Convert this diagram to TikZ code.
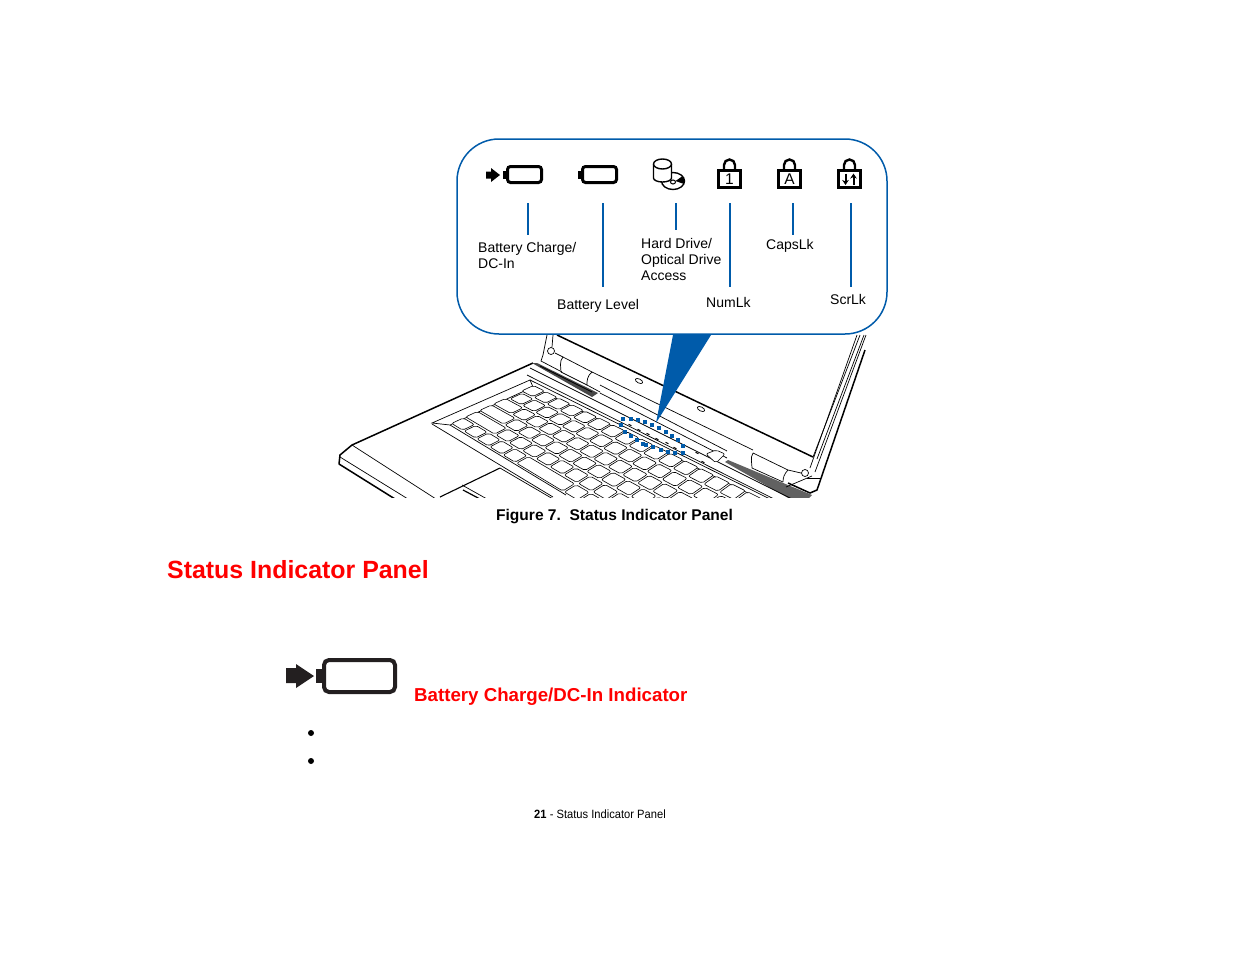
\documentclass[tikz,border=0pt]{standalone}
\usepackage{fontspec}
\setmainfont{Liberation Sans}
\newfontfamily\footfont[FakeStretch=0.93]{Liberation Sans}
\usetikzlibrary{positioning,arrows.meta}
\definecolor{panelblue}{RGB}{0,91,170}
\definecolor{icondark}{RGB}{35,31,32}
\tikzset{
	declare function={
		kx(\p,\q)=533+12.5*\p*(1+0.01*\p+0.02*\q)-14*\q*(1+0.018*\p);
		ky(\p,\q)=391+6.3*\p*(1+0.01*\p+0.02*\q)+6.6*\q*(1+0.02*\p);
	},
	keyline/.style={draw=black, fill=white, line width=0.6pt, rounded corners=2pt},
	thin line/.style={draw=black, line width=0.7pt},
	thick line/.style={draw=black, line width=1.5pt},
	leadline/.style={draw=panelblue, line width=1.8pt},
	tag/.style={inner sep=0pt, font=\fontsize{14}{16}\selectfont, align=left, anchor=west},
	lockbox/.style={draw=black, line width=3pt, minimum width=22pt, minimum height=17pt, inner sep=0pt, font=\fontsize{15.5}{15.5}\selectfont},
	cellbox/.style={draw=black, line width=3pt, rounded corners=3pt, minimum width=34pt, minimum height=16pt, inner sep=0pt},
}
\newcommand{\keycap}[3]{%
	\draw[keyline] ({kx(#1+.06,#2-.42)},{ky(#1+.06,#2-.42)}) -- ({kx(#1+#3-.06,#2-.42)},{ky(#1+#3-.06,#2-.42)})
		-- ({kx(#1+#3-.06,#2+.42)},{ky(#1+#3-.06,#2+.42)}) -- ({kx(#1+.06,#2+.42)},{ky(#1+.06,#2+.42)}) -- cycle;
}
\begin{document}
\begin{tikzpicture}[x=1pt, y=-1pt]
	\useasboundingbox (0,0) rectangle (1235,954);

	% laptop
	\begin{scope}
		\clip (330,330) rectangle (880,497);
		\draw[thick line, line join=round] (533,363) -- (352,445) -- (340,455) -- (339,464) -- (395,499);
		\draw[thin line] (352,445) -- (436,499);
		\draw[thin line] (340,457) -- (408,499);
		% well of the keyboard
		\draw[thin line] (450,425) -- (432,423) -- (530,380) -- (533,387) -- (450,425) -- (566,495);
		\draw[thin line] (432,424) -- (553,497);
		% touchpad
		\draw[line width=1.1pt] (440,497) -- (500,468);
		\draw[thin line] (500,468) -- (553,499);
		\draw[thin line] (462,485) -- (487,499);
		\draw[line width=1.2pt] (463,490) -- (480,499);
		% grills
		\fill[black!72] (532,363) -- (537,363) -- (598,393) -- (592,397) -- cycle;
		\fill[black!62] (725,462) -- (728,460) -- (812,495) -- (808,499) -- (790,499) -- cycle;
		% strip behind the keys
		\draw[thin line] (540,366) -- (592,392) (600,393) -- (727,458);
		\draw[thin line] (530,368) -- (810,508);
		\draw[thin line] (527,375) -- (780,502);
		\draw[thin line] (530,380) -- (770,499);
		\draw[thin line] (533,387) -- (760,499);
		% lid and hinges
		\draw[thick line] (557,335) -- (813,457);
		\draw[thin line] (547,335) -- (543,355) -- (541,361) -- (562,372);
		\draw[thin line] (553,335) -- (552,347);
		\draw[thin line, fill=white] (551,351) circle[radius=3.5pt];
		\draw[thin line] (555,353) -- (563,357) (563,357) -- (592,372) -- (753,450) (753,453) -- (788,470) -- (801,473);
		\draw[thin line] (561,372) -- (587,385);
		\draw[thin line] (563,357) .. controls (559,361) and (561,368) .. (561,372);
		\draw[thin line] (592,372) .. controls (587,376) and (587,381) .. (587,385) -- (600,392);
		\draw[thin line] (600,385) -- (727,451);
		\draw[thin line] (752,468) -- (783,482);
		\draw[thin line] (753,453) .. controls (750,458) and (752,463) .. (752,468);
		\draw[thin line] (788,470) .. controls (784,474) and (783,478) .. (783,482);
		\draw[thin line, fill=white] (805,473) circle[radius=3.5pt];
		\draw[thick line] (788,483) -- (810,493) -- (817,490) -- (865,350);
		\draw[thin line] (813,457) -- (860,335);
		\draw[thin line] (817,459) -- (864,335);
		\draw[thin line] (810,468) -- (857,335);
		\draw[thin line] (815,472) -- (866,335);
		\draw[thin line] (807,478) -- (820,478);
		\draw[thin line] (786,487) -- (812,476);
		\draw[thin line] (639,381) ellipse[x radius=4pt, y radius=2pt, rotate=-27];
		\draw[thin line] (701,409) ellipse[x radius=4pt, y radius=2pt, rotate=-27];
		% status lamps and button
		\foreach \x/\y in {630/425,639/430,648/434,657/439,667/443,675/448,683/452,697/453,703/462}
			\draw[line width=1pt] (\x-1.5,\y-0.7) -- (\x+1.5,\y+0.7);
		\draw[keyline] (706,454) -- (716,450) -- (725,454) -- (716,463) -- cycle;
		% keys
		\foreach \r/\s/\w in {0/-.5/1,1/-.3/1,2/-.5/1.5,3/-.5/2,4/-.5/2.4}{
			\keycap{\s}{\r}{\w}
			\pgfmathsetmacro{\first}{\s+\w}
			\foreach \n in {0,...,15}{
				\keycap{\first+\n}{\r}{1}
			}
		}
		\foreach \c in {-.5,.5,1.5,2.5,3.5}{
			\keycap{\c}{5}{1}
		}
		\keycap{4.5}{5}{3.4}
		\foreach \c in {7.9,8.9,9.9,10.9,11.9,12.9}{
			\keycap{\c}{5}{1}
		}
	\end{scope}

	% dots round the lamps
	\foreach \x/\y in {623/419,631/419,638/420,645/422,652/425,659/428,666/432,672/436,678/440,683/446,683/453,675/453,668/452,661/450,653/447,646/445,643/444,637/440,631/436,625/432,621/425}
		\fill[panelblue] (\x-1.9,\y-1.9) rectangle (\x+1.9,\y+1.9);
	\fill[panelblue] (673,335) -- (711,335) -- (656,423) -- cycle;

	% panel
	\draw[draw=panelblue, line width=1.5pt, fill=white, rounded corners=42pt] (457,139) rectangle (887,334);

	% icons
	\node[cellbox] (chargeCell) at (524.5,174.5) {};
	\fill[black] (chargeCell.west) ++(-3.5,-4) rectangle ++(6,8);
	\fill[black] (486,171.5) -- (491,171.5) -- (491,168) -- (500,175) -- (491,182) -- (491,178.5) -- (486,178.5) -- cycle;
	\node[cellbox] (levelCell) at (599.5,174.5) {};
	\fill[black] (levelCell.west) ++(-3.5,-4) rectangle ++(6,8);

	\draw[line width=1.4pt, fill=white] (673,181) ellipse[x radius=11.5pt, y radius=8.5pt];
	\draw[line width=1pt, fill=white] (673,182) ellipse[x radius=2.5pt, y radius=2pt];
	\fill[black] (675.5,181) -- (682,176.5) .. controls (685,179) and (685,182) .. (684,184) -- cycle;
	\draw[line width=1.4pt, fill=white] (653.5,164) -- (653.5,178) arc[start angle=180, end angle=360, x radius=9pt, y radius=4pt] -- (671.5,164);
	\draw[line width=1.4pt, fill=white] (662.5,164) ellipse[x radius=9pt, y radius=5pt];

	\node[lockbox] (numLock) at (729.5,179) {1};
	\node[lockbox] (capsLock) at (789.5,179) {A};
	\node[lockbox] (scrLock) at (849.5,179) {};
	\foreach \n in {numLock,capsLock,scrLock}
		\draw[line width=2.4pt] ([xshift=-5.5pt]\n.north) -- ++(0,-4) arc[start angle=180, end angle=0, radius=5.5pt] -- ++(0,4);
	\draw[line width=2pt, -{Stealth[length=5pt, width=6.5pt]}] (845.5,173.5) -- (845.5,185);
	\draw[line width=2pt, -{Stealth[length=5pt, width=6.5pt]}] (853.5,185) -- (853.5,173.5);

	% lines under the icons
	\foreach \n/\x/\y in {charge/528/235,level/603/287,drive/676/230,num/730/287,caps/793/235,scr/851/287}{
		\coordinate (\n Top) at (\x,203);
		\coordinate (\n End) at (\x,\y);
		\draw[leadline] (\n Top) -- (\n End);
	}

	% labels
	\node[tag] (chargeTag) at (478,255) {Battery Charge/\\DC-In};
	\node[tag] (levelTag) at (557,305.5) {Battery Level};
	\node[tag] (driveTag) at (641,259) {Hard Drive/\\Optical Drive\\Access};
	\node[tag] (numTag) at (706,302) {NumLk};
	\node[tag] (capsTag) at (766,245.5) {CapsLk};
	\node[tag] (scrTag) at (830,299) {ScrLk};

	\node[inner sep=0pt, anchor=base, font=\fontsize{15.55}{18}\selectfont\bfseries] (figCaption) at (614.5,520) {Figure 7.\ \ Status Indicator Panel};
	\node[inner sep=0pt, anchor=base west, text=red, font=\fontsize{24.9}{28}\selectfont\bfseries] (mainTitle) at (167,578) {Status Indicator Panel};

	% big icon
	\node[draw=icondark, line width=4pt, rounded corners=5pt, minimum width=71pt, minimum height=32pt, inner sep=0pt] (bigCell) at (359.5,676) {};
	\fill[icondark] (316,669) rectangle (323,683);
	\fill[icondark] (286,668) -- (296,668) -- (296,664) -- (314,676) -- (296,688) -- (296,683) -- (286,683) -- cycle;
	\node[inner sep=0pt, anchor=base west, text=red, font=\fontsize{18.7}{22}\selectfont\bfseries] (subTitle) at (414,701) {Battery Charge/DC-In Indicator};
	\node[circle, fill=black, minimum size=6pt, inner sep=0pt] (bulletOne) at (311,733) {};
	\node[circle, fill=black, minimum size=6pt, inner sep=0pt] (bulletTwo) at (311,761) {};

	\node[inner sep=0pt, anchor=base, font=\fontsize{12}{14}\footfont] (pageFoot) at (600,818) {\textbf{21} - Status Indicator Panel};
\end{tikzpicture}
\end{document}
